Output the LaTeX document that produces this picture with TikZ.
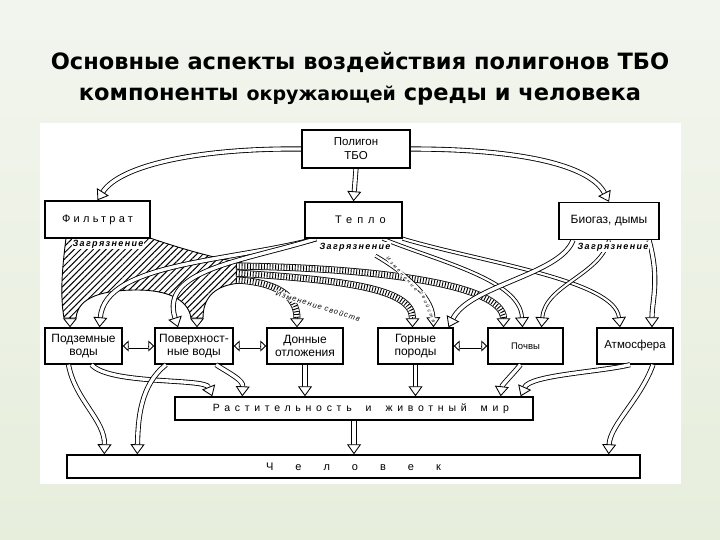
\documentclass[tikz,border=0pt]{standalone}
\usepackage{fontspec}
\setmainfont{Liberation Sans}
\newfontfamily\titlefont{DejaVu Sans}
\newfontfamily\spfont[LetterSpace=30]{Liberation Sans}
\newfontfamily\spwide[LetterSpace=45]{Liberation Sans}
\newfontfamily\labfont[LetterSpace=15]{Liberation Sans}
\newfontfamily\tinyfont[LetterSpace=45]{Liberation Sans}
\usetikzlibrary{arrows.meta,calc,patterns.meta}
\definecolor{bgA}{HTML}{F2F5EE}
\definecolor{bgB}{HTML}{E7EEDC}
\tikzset{
  box/.style={draw, line width=1.4pt, fill=white, inner sep=0pt, align=center,
    font=\fontsize{12}{13}\selectfont},
  hol/.style={line width=0.85pt, double=white, double distance=3.4pt,
    -{Triangle[fill=white, length=10pt, width=14pt, line width=0.85pt]}},
  holn/.style={hol, double distance=2.2pt},
  stip/.style={line width=0.9pt, -{Triangle[fill=white, length=6pt, width=11pt, line width=0.9pt]}},
  shaft/.style={line width=5pt, postaction={draw=white, line width=3.2pt}},
  rope/.style={line width=7pt,
    postaction={draw=white, line width=5.4pt},
    postaction={draw=black, line width=5.4pt, dash pattern=on 0.9pt off 1.9pt}},
  rtip/.style={line width=0.85pt, -{Triangle[fill=white, length=9pt, width=14pt, line width=0.85pt]}},
  hatch/.style={draw, line width=0.9pt, pattern={Lines[angle=45, distance=4.5pt, line width=1pt]}},
  lab/.style={font=\labfont\bfseries\itshape\fontsize{9}{10}\selectfont, inner sep=0.6pt, fill=white},
  tiny/.style={font=\tinyfont\itshape\fontsize{5}{5}\selectfont, inner sep=0.3pt, fill=white}
}
\begin{document}
\begin{tikzpicture}[x=1pt, y=-1pt]
\useasboundingbox (0,0) rectangle (720,540);
\shade[top color=bgA, bottom color=bgB] (0,0) rectangle (720,540);
\fill[white] (40,123) rectangle (681,484);

% title
\node[font=\titlefont\bfseries\fontsize{22.5}{26}\selectfont] (t1) at (360,62) {Основные аспекты воздействия полигонов ТБО};
\node[font=\titlefont\bfseries\fontsize{22.5}{26}\selectfont] (t2) at (360,96) {компоненты {\fontsize{19}{20}\selectfont окружающей} среды и человека};

% node placement (boxes drawn later on top)
\path
  node[box, minimum width=108pt, minimum height=38pt, font=\fontsize{11.5}{14}\selectfont] (poly) at (356,149) {Полигон\\ТБО}
  node[box, minimum width=105pt, minimum height=37pt, font={\fontsize{11}{12}\spfont}] (filt) at (97.5,219.5) {Фильтрат}
  node[box, minimum width=97pt, minimum height=36pt, font={\fontsize{11}{12}\spwide}] (teplo) at (353.5,220) {\hspace*{14pt}Тепло}
  node[box, minimum width=100pt, minimum height=37pt] (bio) at (609,221) {Биогаз, дымы}
  node[box, minimum width=77pt, minimum height=36pt] (podz) at (83.5,346) {Подземные\\воды}
  node[box, minimum width=78pt, minimum height=36pt] (pover) at (194,346) {Поверхност-\\ные воды}
  node[box, minimum width=76pt, minimum height=36pt] (dno) at (305,346) {Донные\\отложения}
  node[box, minimum width=75pt, minimum height=36pt] (gor) at (415.5,346) {Горные\\породы}
  node[box, minimum width=75pt, minimum height=36pt, font=\fontsize{9.5}{10}\selectfont] (pochv) at (525.5,346) {Почвы}
  node[box, minimum width=76pt, minimum height=36pt, font=\fontsize{11.5}{12.5}\selectfont] (atm) at (635,346) {Атмосфера}
  node[box, minimum width=358pt, minimum height=23pt, font={\fontsize{10.5}{12}\spwide}] (rast) at (354,408.5) {\hspace*{14pt}Растительность\hspace{14pt}и\hspace{14pt}животный\hspace{14pt}мир}
  node[box, minimum width=573pt, minimum height=23pt, font=\fontsize{11}{12}\selectfont] (chel) at (353.5,466.5) {Ч\hspace{22pt}е\hspace{22pt}л\hspace{22pt}о\hspace{22pt}в\hspace{22pt}е\hspace{22pt}к};

% hatched pollution region from Фильтрат
\path[hatch] (66,238) -- (150,238) .. controls (185,250) and (215,258) .. (242,263)
  -- (242,283) .. controls (222,284) and (203,292) .. (203,318) -- (191,318)
  .. controls (188,298) and (165,290) .. (137,290)
  .. controls (105,290) and (78,296) .. (76,318) -- (64,318)
  .. controls (60,295) and (62,270) .. (66,238) -- cycle;
\draw[rtip] ($(podz.north)+(-13.5,-10)$) -- ($(podz.north)+(-13.5,0)$);
\draw[rtip] ($(pover.north)+(3,-10)$) -- ($(pover.north)+(3,0)$);

% ropes
\coordinate (r1) at (236,266);
\coordinate (r2) at (236,273);
\coordinate (r3) at (236,280);
\draw[rope] (r1) .. controls (380,268) and (503,285) .. ($(pochv.north)+(-22,-9)$);
\draw[rtip] ($(pochv.north)+(-22,-10)$) -- ($(pochv.north)+(-22,0)$);
\draw[rope] (r2) .. controls (340,280) and (413,288) .. ($(gor.north)+(-3,-9)$);
\draw[rtip] ($(gor.north)+(-3,-10)$) -- ($(gor.north)+(-3,0)$);
\draw[rope] (r3) .. controls (275,282) and (297,295) .. ($(dno.north)+(-8,-9)$);
\draw[rtip] ($(dno.north)+(-8,-10)$) -- ($(dno.north)+(-8,0)$);

% top hollow arrows
\draw[hol] (poly.west) .. controls (200,148) and (120,165) .. (filt.north);
\draw[hol] (poly.east) .. controls (520,149) and (590,165) .. (bio.north);
\draw[hol] (poly.south) -- (teplo.north);

% Тепло
\draw[hol] ([xshift=12pt]teplo.south west) .. controls (230,262) and (105,262) .. ([xshift=16pt]podz.north);
\draw[hol] ([xshift=12pt]teplo.south west) .. controls (240,262) and (160,270) .. ([xshift=-16pt]pover.north);
\coordinate (tg) at ($(teplo.south)+(22,17)$);
\draw[holn] (tg) .. controls (400,270) and (433,295) .. ([xshift=18pt]gor.north);
\draw[holn] ([xshift=-20pt]teplo.south east) .. controls (440,262) and (520,280) .. ([xshift=-3pt]pochv.north);
\draw[holn] (teplo.south east) .. controls (480,262) and (615,280) .. ([xshift=-15pt]atm.north);

% Биогаз
\draw[hol] ([xshift=-36pt]bio.south) .. controls (560,275) and (470,285) .. ([xshift=33pt]gor.north);
\draw[holn] (bio.south) .. controls (600,275) and (545,285) .. ([xshift=16pt]pochv.north);
\draw[hol] ([xshift=40pt]bio.south) .. controls (660,280) and (652,300) .. ([xshift=17pt]atm.north);

% lower row two-way links
\coordinate (m1) at ($(podz.east)!0.5!(pover.west)$);
\coordinate (m2) at ($(pover.east)!0.5!(dno.west)$);
\coordinate (m3) at ($(gor.east)!0.5!(pochv.west)$);
\draw[stip] (m1) -- (podz.east);
\draw[stip] (m1) -- (pover.west);
\draw[shaft] ($(podz.east)+(6,0)$) -- ($(pover.west)+(-6,0)$);
\draw[stip] (m2) -- (pover.east);
\draw[stip] (m2) -- (dno.west);
\draw[shaft] ($(pover.east)+(6,0)$) -- ($(dno.west)+(-6,0)$);
\draw[stip] (m3) -- (gor.east);
\draw[stip] (m3) -- (pochv.west);
\draw[shaft] ($(gor.east)+(6,0)$) -- ($(pochv.west)+(-6,0)$);

\draw[hol] (dno.south) -- (dno.south |- rast.north);
\draw[hol] (gor.south) -- (gor.south |- rast.north);
\draw[hol] (rast.south) -- (rast.south |- chel.north);

\draw[hol] ([xshift=-15pt]podz.south) .. controls (75,400) and (105,420) .. ($(chel.north west)+(38,0)$);
\draw[hol] ([xshift=8pt]podz.south) .. controls (110,385) and (205,378) .. ($(rast.north west)+(38,0)$);
\draw[hol] ([xshift=-28pt]pover.south) .. controls (140,385) and (138,420) .. ($(chel.north west)+(71,0)$);
\draw[hol] ([xshift=22pt]pover.south) .. controls (232,375) and (243,380) .. ($(rast.north west)+(68,0)$);
\draw[hol] ([xshift=-5pt]pochv.south) .. controls (512,375) and (502,385) .. ($(rast.north east)+(-33,0)$);
\draw[hol] ([xshift=-5pt]atm.south) .. controls (600,372) and (530,375) .. ($(rast.north east)+(-13,0)$);
\draw[hol] ([xshift=18pt]atm.south) .. controls (640,400) and (610,425) .. ($(chel.north east)+(-32,0)$);

% boxes on top
\path
  node[box, minimum width=108pt, minimum height=38pt, font=\fontsize{11.5}{14}\selectfont] at (poly) {Полигон\\ТБО}
  node[box, minimum width=105pt, minimum height=37pt, font={\fontsize{11}{12}\spfont}] at (filt) {Фильтрат}
  node[box, minimum width=97pt, minimum height=36pt, font={\fontsize{11}{12}\spwide}] at (teplo) {\hspace*{14pt}Тепло}
  node[box, minimum width=100pt, minimum height=37pt] at (bio) {Биогаз, дымы};

% labels
\node[lab] (l1) at (108,244) {Загрязнение};
\node[lab] (l2) at (355,247) {Загрязнение};
\node[lab] (l3) at (613,247) {Загрязнение};
\node[lab, font=\labfont\itshape\fontsize{7.5}{8}\selectfont, rotate=-17] (l4) at (318,306) {Изменение свойств};
\node[tiny, rotate=-48] (l5) at (402,274) {Изменение};
\node[tiny, rotate=-68] (l6) at (428,307) {свойств};
\end{tikzpicture}
\end{document}
